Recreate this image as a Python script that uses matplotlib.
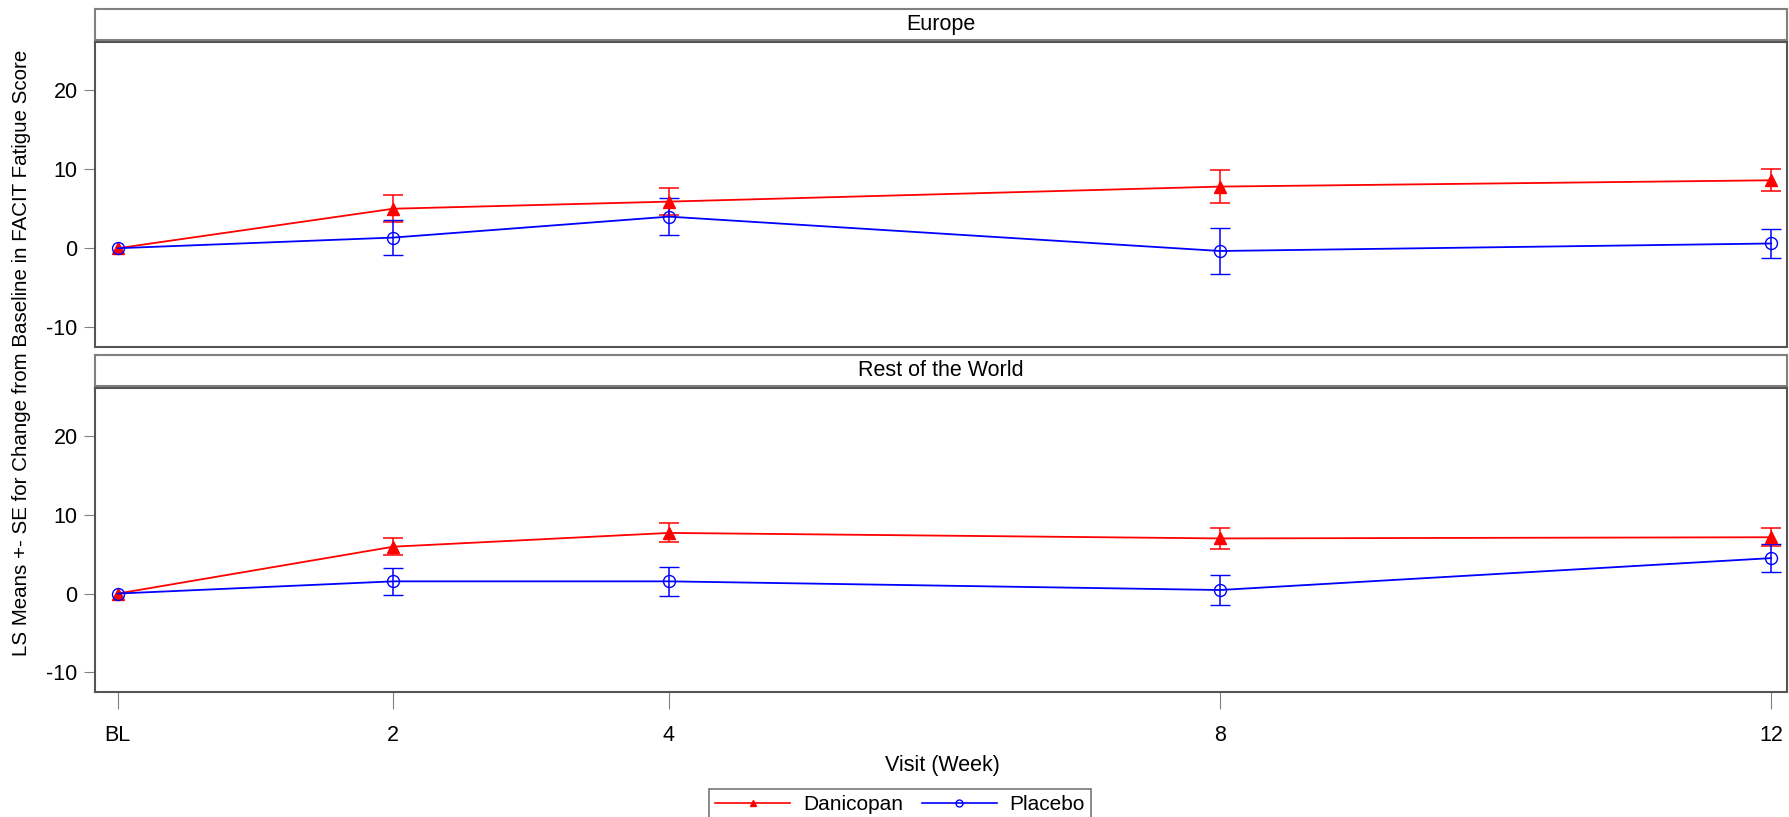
import numpy as np
import matplotlib.pyplot as plt
from matplotlib.lines import Line2D

weeks = [0, 2, 4, 8, 12]
week_labels = ['BL', '2', '4', '8', '12']
regions = ['Europe', 'Rest of the World']

# LS means and SE
eu_dan = [0, 5.0, 5.9, 7.8, 8.6]
eu_dan_se = [0, 1.7, 1.7, 2.1, 1.4]
eu_pla = [0, 1.35, 4.0, -0.35, 0.6]
eu_pla_se = [0, 2.2, 2.35, 2.9, 1.8]

row_dan = [0, 5.95, 7.7, 7.0, 7.15]
row_dan_se = [0, 1.05, 1.2, 1.3, 1.15]
row_pla = [0, 1.55, 1.55, 0.45, 4.5]
row_pla_se = [0, 1.7, 1.85, 1.95, 1.75]

dan = [eu_dan, row_dan]
dan_se = [eu_dan_se, row_dan_se]
pla = [eu_pla, row_pla]
pla_se = [eu_pla_se, row_pla_se]

narrow = ['Liberation Sans Narrow', 'Liberation Sans', 'DejaVu Sans']
plt.rcParams['font.family'] = ['Liberation Sans', 'DejaVu Sans']

W, H = 1789, 817
fig = plt.figure(figsize=(W / 100, H / 100), dpi=100)

def frac(x0, y0, x1, y1):
    return [x0 / W, 1 - y1 / H, (x1 - x0) / W, (y1 - y0) / H]

plot_boxes = [(95, 42, 1787, 347), (95, 388, 1787, 692)]
strip_boxes = [(95, 9, 1787, 40), (95, 355, 1787, 386)]
frame = '#555555'

for i in range(2):
    st = fig.add_axes(frac(*strip_boxes[i]))
    st.set_xticks([])
    st.set_yticks([])
    for s in st.spines.values():
        s.set_color('#808080')
        s.set_linewidth(1.5)
    st.text(0.5, 0.5, regions[i], ha='center', va='center', fontsize=15.5,
            family=narrow, transform=st.transAxes)

    ax = fig.add_axes(frac(*plot_boxes[i]))
    ax.errorbar(weeks, dan[i], yerr=dan_se[i], color='red', lw=1.3,
                marker='^', ms=8, mfc='red', mec='red', capsize=7.2,
                elinewidth=1.1, capthick=1.1, errorevery=(1, 1))
    ax.errorbar(weeks, pla[i], yerr=pla_se[i], color='blue', lw=1.3,
                marker='o', ms=8.6, mfc='none', mec='blue', mew=1.0, capsize=7.2,
                elinewidth=1.1, capthick=1.1, errorevery=(1, 1))
    ax.set_xlim(-0.165, 12.115)
    ax.set_ylim(-12.5, 26.1)
    ax.set_yticks([-10, 0, 10, 20])
    ax.set_yticklabels(['-10', '0', '10', '20'], family=narrow, fontsize=15.5)
    for s in ax.spines.values():
        s.set_color(frame)
        s.set_linewidth(1.5)
    ax.tick_params(axis='y', length=8, color='#808080', pad=4.5)
    if i == 0:
        ax.set_xticks([])
    else:
        ax.set_xticks(weeks)
        ax.set_xticklabels(week_labels, family=narrow, fontsize=15.5)
        ax.tick_params(axis='x', length=12, color='#808080', pad=12)

fig.text(22 / W, 1 - 353 / H, 'LS Means +- SE for Change from Baseline in FACIT Fatigue Score',
         rotation=90, ha='center', va='center', fontsize=14.8)
fig.text(942 / W, 1 - 765 / H, 'Visit (Week)', ha='center', va='center', fontsize=15.5)

handles = [Line2D([], [], color='red', lw=1.2, marker='^', ms=5, mfc='red', mec='red'),
           Line2D([], [], color='blue', lw=1.2, marker='o', ms=5, mfc='none', mec='blue')]
leg = fig.legend(handles, ['Danicopan', 'Placebo'], loc='upper center',
                 bbox_to_anchor=(900 / W, 1 - 789 / H), ncol=2, frameon=True,
                 fancybox=False, fontsize=15, handlelength=3.6, handletextpad=0.6,
                 columnspacing=0.9, borderpad=0.3, borderaxespad=0)
leg.get_frame().set_edgecolor('#555555')
leg.get_frame().set_linewidth(1.2)

fig.savefig('out.png', dpi=100)
